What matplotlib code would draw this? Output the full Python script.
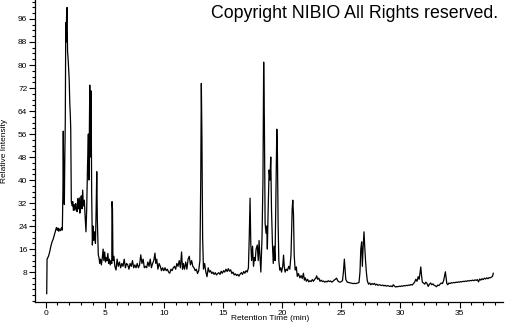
import matplotlib
matplotlib.use("Agg")
import matplotlib.pyplot as plt
from matplotlib.ticker import MultipleLocator

# Retention time (min) and relative intensity
time_min = [
    0.10, 0.13, 0.25, 0.35, 0.45, 0.55, 0.65, 0.75, 0.85, 0.92, 1.00, 1.05, 1.12, 1.20, 1.28, 1.35, 1.42,
    1.47, 1.50, 1.53, 1.56, 1.59, 1.63, 1.67, 1.71, 1.74, 1.78, 1.82, 1.86, 1.92, 2.00, 2.05, 2.10, 2.13,
    2.18, 2.25, 2.30, 2.36, 2.42, 2.48, 2.55, 2.60, 2.67, 2.72, 2.78, 2.85, 2.90, 2.96, 3.02, 3.08, 3.14,
    3.20, 3.28, 3.35, 3.42, 3.48, 3.55, 3.62, 3.67, 3.74, 3.79, 3.85, 3.90, 3.96, 4.02, 4.08, 4.15, 4.22,
    4.28, 4.33, 4.38, 4.46, 4.52, 4.58, 4.65, 4.72, 4.80, 4.87, 4.93, 5.00, 5.07, 5.13, 5.20, 5.27, 5.33,
    5.40, 5.47, 5.55, 5.60, 5.62, 5.66, 5.70, 5.78, 5.86, 5.96,
    6.05, 6.15, 6.25, 6.35, 6.45, 6.55, 6.65, 6.75, 6.85, 6.95, 7.05, 7.15, 7.25, 7.35, 7.45, 7.55, 7.65,
    7.75, 7.85, 7.95, 8.05, 8.15, 8.25, 8.35, 8.45, 8.55, 8.65, 8.75, 8.85, 8.95, 9.05, 9.15, 9.25, 9.32,
    9.40, 9.50, 9.60, 9.70, 9.80, 9.90, 10.00, 10.10, 10.20, 10.30, 10.40, 10.50, 10.60, 10.70, 10.80,
    10.90, 11.00, 11.10, 11.20, 11.30, 11.40, 11.50, 11.58, 11.65, 11.75, 11.85, 11.95, 12.05, 12.15,
    12.25, 12.35, 12.45, 12.55, 12.65, 12.75, 12.85, 12.95, 13.05, 13.12, 13.17, 13.22, 13.28, 13.35,
    13.45, 13.55, 13.65,
    13.75, 13.85, 13.95, 14.05, 14.15, 14.25, 14.35, 14.45, 14.55, 14.65, 14.75, 14.85, 14.95, 15.05,
    15.15, 15.25, 15.35, 15.45, 15.55, 15.65, 15.75, 15.85, 15.95, 16.05, 16.15, 16.25, 16.35, 16.45,
    16.55, 16.65, 16.75, 16.85, 16.95, 17.05, 17.15, 17.22, 17.29, 17.35, 17.42, 17.50, 17.58, 17.66,
    17.72, 17.80, 17.90, 17.98, 18.05, 18.12, 18.20, 18.30, 18.38, 18.44, 18.50, 18.56, 18.64, 18.70,
    18.75, 18.82, 18.90, 18.97, 19.04, 19.10, 19.18, 19.25, 19.32, 19.40, 19.48, 19.55, 19.60, 19.66,
    19.72, 19.80, 19.88, 19.95, 20.05, 20.12, 20.18, 20.25, 20.35, 20.45, 20.55, 20.65, 20.75, 20.85,
    20.90, 20.96, 21.02, 21.10, 21.20, 21.28, 21.38, 21.50, 21.60, 21.70, 21.80, 21.88, 21.95, 22.05,
    22.15, 22.25, 22.35, 22.45, 22.55, 22.65, 22.75, 22.85, 22.92, 23.00, 23.10, 23.20, 23.30, 23.40,
    23.50, 23.60, 23.70, 23.80, 23.90, 24.00, 24.10, 24.20, 24.30, 24.40, 24.50, 24.60, 24.70, 24.80,
    24.90, 25.00, 25.10, 25.18, 25.26, 25.32, 25.38, 25.50, 25.60, 25.70, 25.80, 25.90, 26.00, 26.10,
    26.20, 26.30, 26.40, 26.50, 26.58, 26.65, 26.72, 26.78, 26.85, 26.92, 26.98, 27.05, 27.12, 27.20,
    27.30, 27.40, 27.50, 27.60, 27.70, 27.80, 27.90, 28.00, 28.10, 28.20, 28.30, 28.40, 28.50, 28.60,
    28.70, 28.80, 28.90, 29.00, 29.10, 29.20, 29.30, 29.40, 29.50, 29.60, 29.70, 29.80, 29.90, 30.00,
    30.10, 30.20, 30.30, 30.40, 30.50, 30.60, 30.70, 30.80, 30.90, 31.00, 31.10, 31.20, 31.30, 31.40,
    31.50, 31.58, 31.65, 31.72, 31.78, 31.85, 31.95, 32.05, 32.15, 32.25, 32.35, 32.45, 32.55, 32.65,
    32.75, 32.85, 32.95, 33.05, 33.15, 33.25, 33.35, 33.45, 33.55, 33.65, 33.72, 33.80, 33.86, 33.92,
    34.00, 34.10, 34.20, 34.30, 34.40, 34.50, 34.60, 34.70, 34.80, 34.90, 35.00, 35.10, 35.20, 35.30,
    35.40, 35.50, 35.60, 35.70, 35.80, 35.90, 36.00, 36.10, 36.20, 36.30, 36.40, 36.50, 36.60, 36.70,
    36.80, 36.90, 37.00, 37.10, 37.20, 37.30, 37.40, 37.50, 37.60, 37.70, 37.78, 37.85,
]

intensity = [
    0.5, 12.5, 13.5, 15.0, 17.0, 18.5, 19.5, 21.0, 22.5, 23.5, 22.5, 23.3, 22.2, 23.0, 22.4, 23.4, 22.6,
    36.0, 57.0, 42.0, 46.0, 31.5, 48.0, 60.0, 94.7, 88.0, 97.0, 100.0, 85.0, 81.4, 75.0, 66.8, 62.0, 58.0,
    32.5, 31.0, 32.5, 29.5, 31.5, 29.5, 31.8, 30.0, 29.0, 33.5, 30.0, 33.8, 28.5, 32.0, 34.5, 30.0, 36.5,
    31.0, 33.0, 27.0, 22.0, 30.0, 45.0, 56.0, 40.0, 73.0, 48.0, 71.0, 35.0, 17.4, 24.0, 19.0, 22.0, 18.0,
    30.0, 42.9, 26.0, 14.0, 13.0, 11.0, 12.5, 10.5, 13.0, 16.0, 12.0, 15.0, 11.5, 13.0, 12.0, 14.5, 11.0,
    12.5, 10.5, 12.0, 11.0, 32.5, 30.0, 12.0, 13.5, 10.0, 8.7,
    12.5, 10.0, 11.5, 9.5, 11.0, 10.0, 12.5, 9.5, 11.0, 10.5, 9.0, 11.0, 10.0, 12.0, 9.5, 10.5, 9.5,
    11.0, 9.5, 10.5, 14.0, 11.0, 12.5, 9.5, 10.0, 9.5, 11.5, 10.0, 12.5, 9.5, 11.0, 12.0, 14.6, 11.0,
    12.5, 9.0, 11.0, 10.0, 8.5, 9.5, 8.5, 9.5, 8.5, 9.0, 8.0, 7.6, 9.0, 8.5, 9.5,
    10.0, 9.0, 11.0, 10.0, 12.0, 9.5, 15.0, 9.0, 11.0, 9.0, 11.5, 9.0, 12.5, 13.5,
    10.5, 12.0, 10.0, 9.5, 8.5, 9.0, 7.5, 8.5, 12.0, 40.0, 73.6, 55.0, 20.0, 9.0,
    11.0, 8.0, 6.4,
    9.5, 8.0, 8.5, 7.5, 8.0, 7.2, 7.8, 7.0, 7.5, 7.8, 7.2, 8.3, 7.6, 8.5,
    8.0, 9.0, 8.2, 9.2, 8.3, 8.8, 7.5, 8.0, 7.0, 7.4, 6.8, 7.2, 6.6, 7.3,
    7.8, 7.2, 8.2, 7.6, 8.5, 8.0, 9.5, 20.0, 33.7, 18.0, 12.0, 17.0, 10.0, 13.0,
    12.0, 16.0, 17.4, 12.0, 19.0, 14.0, 8.0, 20.0, 40.0, 81.0, 60.0, 25.0, 21.5, 24.0,
    16.0, 30.0, 43.5, 40.0, 48.0, 30.0, 18.0, 11.0, 17.0, 12.0, 35.0, 57.7, 50.0, 25.0,
    12.0, 8.7, 9.5, 8.0, 10.0, 13.9, 10.0, 8.0, 9.0, 8.5, 10.0, 9.0, 14.0, 30.0,
    33.0, 28.0, 14.0, 8.7, 9.8, 6.5, 7.5, 6.0, 6.8, 5.8, 7.6, 5.2, 6.0, 4.8,
    5.5, 4.6, 5.0, 4.7, 5.4, 4.8, 5.5, 5.9, 6.7, 5.5, 5.9, 4.8, 5.2, 4.7,
    4.9, 4.5, 4.8, 4.6, 5.0, 4.7, 4.9, 4.5, 4.8, 5.2, 5.5, 5.9, 5.0, 4.6,
    4.5, 4.7, 5.0, 8.0, 12.5, 9.0, 5.5, 4.5, 4.4, 4.3, 4.2, 4.1, 4.0, 4.1,
    4.0, 4.1, 4.2, 4.4, 8.0, 16.0, 18.5, 10.0, 17.0, 22.0, 17.0, 12.0, 8.0, 5.0,
    3.8, 4.2, 3.6, 4.0, 3.7, 4.1, 3.5, 3.8, 3.4, 3.6, 3.5, 3.3, 3.5, 3.2,
    3.4, 3.1, 3.3, 3.2, 3.0, 3.2, 2.9, 3.6, 3.1, 2.8, 3.0, 2.9, 3.1, 3.0,
    3.2, 3.1, 3.3, 3.2, 3.4, 3.3, 3.5, 3.4, 3.7, 3.5, 4.0, 4.5, 5.5, 4.8,
    6.4, 5.5, 7.5, 9.8, 7.0, 4.5, 4.2, 3.8, 4.5, 4.0, 3.0, 3.8, 4.2, 3.6,
    3.9, 3.4, 3.2, 2.9, 3.5, 3.3, 3.8, 4.2, 4.0, 5.0, 6.5, 8.1, 6.0, 4.0,
    3.6, 4.2, 4.0, 4.3, 4.2, 4.4, 4.3, 4.5, 4.4, 4.6, 4.5, 4.7, 4.6, 4.8,
    4.7, 4.9, 4.8, 5.0, 4.9, 5.1, 5.0, 5.2, 5.0, 5.3, 5.1, 5.4, 4.6, 5.6,
    5.2, 5.7, 5.4, 5.9, 5.6, 6.0, 5.7, 6.1, 6.0, 6.3, 6.5, 7.6,
]

y_tick_values = [8, 16, 24, 32, 40, 48, 56, 64, 72, 80, 88, 96]
x_tick_values = [0, 5, 10, 15, 20, 25, 30, 35]

plt.rcParams['font.family'] = ['Liberation Sans', 'DejaVu Sans']

fig = plt.figure(figsize=(5.05, 3.25), dpi=100)
ax = fig.add_axes([35 / 505, 1 - 302 / 325, 468 / 505, 302 / 325])

ax.plot(time_min, intensity, color='black', linewidth=0.9)

ax.set_xlim(-0.89, 38.67)
ax.set_ylim(-2.4, 102.6)

ax.set_xticks(x_tick_values)
ax.set_yticks(y_tick_values)
ax.xaxis.set_minor_locator(MultipleLocator(1))
ax.yaxis.set_minor_locator(MultipleLocator(2))

ax.tick_params(axis='both', which='major', direction='out', length=4, width=0.8,
               labelsize=6, pad=1.5, colors='black')
ax.tick_params(axis='both', which='minor', direction='out', length=2.5, width=0.8)

for side in ('top', 'right'):
    ax.spines[side].set_visible(False)
for side in ('left', 'bottom'):
    ax.spines[side].set_linewidth(0.9)

ax.set_xlabel('Retention Time (min)', fontsize=6)
ax.set_ylabel('Relative Intensity', fontsize=6)
ax.xaxis.set_label_coords(0.502, -0.044)
ax.yaxis.set_label_coords(-0.058, 0.5)

fig.text(0.986, 0.985, 'Copyright NIBIO All Rights reserved.', ha='right', va='top',
         fontsize=12.8, color='black')

fig.savefig('out.png', dpi=100)
